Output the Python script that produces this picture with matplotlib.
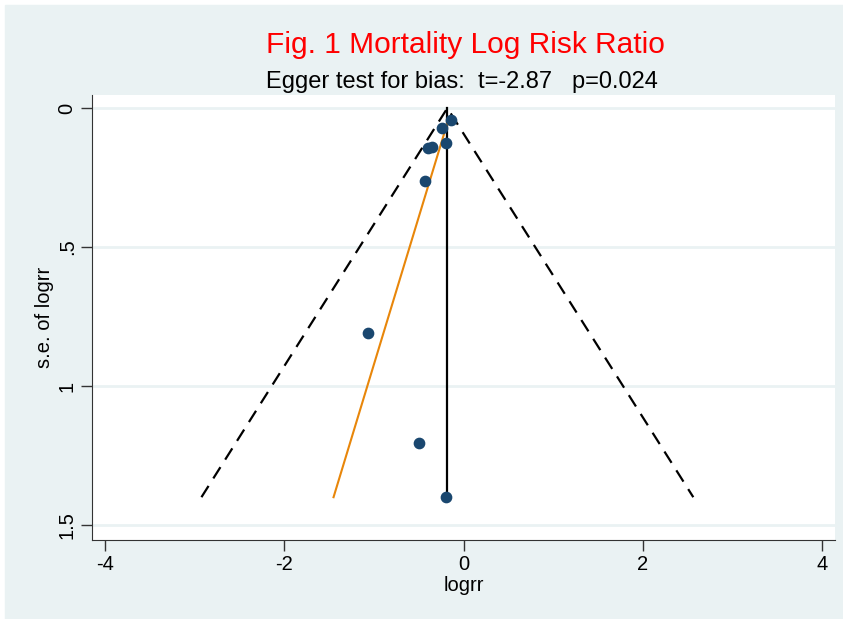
import matplotlib.pyplot as plt
import numpy as np

# study estimates
logrr = [-0.145, -0.24, -0.20, -0.40, -0.35, -0.43, -1.07, -0.50, -0.20]
se_logrr = [0.043, 0.073, 0.125, 0.145, 0.139, 0.263, 0.81, 1.205, 1.40]

theta = -0.18          # pooled estimate (vertical line / funnel apex)
se_max = 1.40
egger_se = [0.043, 1.40]
egger_x = [-0.17, -1.45]

xticks = [-4, -2, 0, 2, 4]
yticks = [0, 0.5, 1, 1.5]
ytick_labels = ["0", ".5", "1", "1.5"]

bg = "#eaf2f3"
navy = "#1a476f"
orange = "#e8860a"

plt.rcParams['font.family'] = ['Liberation Sans', 'DejaVu Sans']

fig = plt.figure(figsize=(8.43, 6.19), dpi=100, facecolor="white")
# light backdrop with thin white border, like the Stata graph region
fig.patches.append(plt.Rectangle((5 / 843, 0), 838 / 843, 614 / 619,
                                 transform=fig.transFigure, color=bg, zorder=-10))
ax = fig.add_axes([92 / 843, 79 / 619, 743 / 843, 445 / 619])
ax.set_facecolor("white")

ax.set_xlim(-4.145, 4.145)
ax.set_ylim(1.554, -0.047)

for y in yticks:
    ax.axhline(y, color=bg, lw=2, zorder=1)

# pseudo 95% confidence limits
ax.plot([theta - 1.96 * se_max, theta, theta + 1.96 * se_max], [se_max, 0, se_max],
        color="black", lw=1.6, ls=(0, (6, 4)), zorder=2)
ax.plot([theta, theta], [0, se_max], color="black", lw=1.6, zorder=2)
ax.plot(egger_x, egger_se, color=orange, lw=1.5, zorder=3)
ax.scatter(logrr, se_logrr, s=55, color=navy, zorder=4)

ax.set_xticks(xticks)
ax.set_xticklabels([str(t) for t in xticks])
ax.set_yticks(yticks)
ax.set_yticklabels(ytick_labels, rotation=90, va="center")
ax.tick_params(labelsize=14.5, length=8, width=1, color="#333333", pad=3)
ax.spines["top"].set_visible(False)
ax.spines["right"].set_visible(False)
for s in ("left", "bottom"):
    ax.spines[s].set_color("#333333")
ax.set_xlabel("logrr", fontsize=14.5, labelpad=1)
ax.set_ylabel("s.e. of logrr", fontsize=14.5, labelpad=3)

fig.text(465 / 843, 1 - 53 / 619, "Fig. 1 Mortality Log Risk Ratio", color="red",
         fontsize=21.5, ha="center", va="baseline")
fig.text(462 / 843, 1 - 88 / 619, "Egger test for bias:  t=-2.87   p=0.024",
         color="black", fontsize=17, ha="center", va="baseline")

fig.savefig("out.png", dpi=100, facecolor=fig.get_facecolor())
